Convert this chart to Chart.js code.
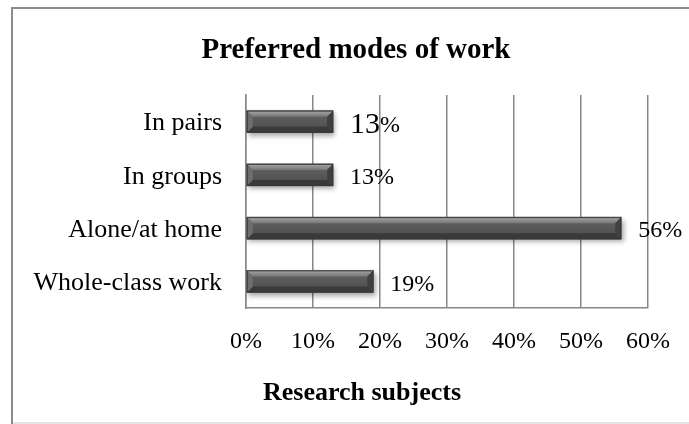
<!DOCTYPE html>
<html>
<head>
<meta charset="utf-8">
<script src="https://cdn.jsdelivr.net/npm/chart.js@4/dist/chart.umd.min.js"></script>
<style>
  html, body { margin: 0; padding: 0; background: #fff; }
  canvas { display: block; }
</style>
</head>
<body>
<canvas id="c" width="689" height="424"></canvas>
<script>
const categories = ["In pairs", "In groups", "Alone/at home", "Whole-class work"];
const values = [13, 13, 56, 19];
const tickValues = [0, 10, 20, 30, 40, 50, 60];
const chartTitle = "Preferred modes of work";
const axisTitle = "Research subjects";

const FONT = "'Liberation Serif', 'Times New Roman', serif";
const GRID = "#878787";

const framePlugin = {
  id: "frame",
  beforeDraw(chart) {
    const ctx = chart.ctx;
    ctx.save();
    ctx.fillStyle = "#fff";
    ctx.fillRect(0, 0, chart.width, chart.height);
    ctx.strokeStyle = "#dcdcdc";
    ctx.lineWidth = 1.5;
    ctx.beginPath();
    ctx.moveTo(12, 423); ctx.lineTo(chart.width, 423);
    ctx.stroke();
    ctx.strokeStyle = "#8c8c8c";
    ctx.lineWidth = 2;
    ctx.beginPath();
    ctx.moveTo(12, 424); ctx.lineTo(12, 8); ctx.lineTo(chart.width + 5, 8);
    ctx.stroke();
    ctx.restore();
  }
};

const titlesPlugin = {
  id: "titles",
  afterDraw(chart) {
    const ctx = chart.ctx;
    ctx.save();
    ctx.fillStyle = "#000";
    ctx.textAlign = "center";
    ctx.textBaseline = "middle";
    ctx.font = "bold 29px " + FONT;
    ctx.fillText(chartTitle, 356, 51);
    ctx.font = "bold 26px " + FONT;
    ctx.fillText(axisTitle, 362, 393);
    ctx.restore();
  }
};

const shadowPlugin = {
  id: "barShadow",
  beforeDatasetDraw(chart) {
    const ctx = chart.ctx;
    ctx.save();
    ctx.shadowColor = "rgba(0,0,0,0.35)";
    ctx.shadowBlur = 5;
    ctx.shadowOffsetX = 2;
    ctx.shadowOffsetY = 3;
  },
  afterDatasetDraw(chart) {
    chart.ctx.restore();
  }
};

const bevelPlugin = {
  id: "bevel",
  afterDatasetsDraw(chart) {
    const ctx = chart.ctx;
    const meta = chart.getDatasetMeta(0);
    meta.data.forEach((bar) => {
      const x0 = Math.min(bar.base, bar.x), x1 = Math.max(bar.base, bar.x);
      const h = bar.height;
      const y0 = bar.y - h / 2, y1 = bar.y + h / 2;
      const b = 6;
      ctx.save();
      const g = ctx.createLinearGradient(0, y0, 0, y1);
      g.addColorStop(0, "#666666");
      g.addColorStop(1, "#4a4a4a");
      ctx.fillStyle = g;
      ctx.fillRect(x0, y0, x1 - x0, y1 - y0);
      const gt = ctx.createLinearGradient(0, y0, 0, y0 + b);
      gt.addColorStop(0, "#a8a8a8");
      gt.addColorStop(1, "#777777");
      ctx.fillStyle = gt;
      ctx.beginPath();
      ctx.moveTo(x0, y0); ctx.lineTo(x1, y0); ctx.lineTo(x1 - b, y0 + b); ctx.lineTo(x0 + b, y0 + b); ctx.closePath();
      ctx.fill();
      ctx.fillStyle = "#3a3a3a";
      ctx.beginPath();
      ctx.moveTo(x0, y1); ctx.lineTo(x1, y1); ctx.lineTo(x1 - b, y1 - b); ctx.lineTo(x0 + b, y1 - b); ctx.closePath();
      ctx.fill();
      ctx.fillStyle = "#6e6e6e";
      ctx.beginPath();
      ctx.moveTo(x0, y0); ctx.lineTo(x0 + b, y0 + b); ctx.lineTo(x0 + b, y1 - b); ctx.lineTo(x0, y1); ctx.closePath();
      ctx.fill();
      ctx.fillStyle = "#404040";
      ctx.beginPath();
      ctx.moveTo(x1, y0); ctx.lineTo(x1 - b, y0 + b); ctx.lineTo(x1 - b, y1 - b); ctx.lineTo(x1, y1); ctx.closePath();
      ctx.fill();
      ctx.strokeStyle = "#383838";
      ctx.lineWidth = 1;
      ctx.strokeRect(x0 + 0.5, y0 + 0.5, x1 - x0 - 1, y1 - y0 - 1);
      ctx.restore();
    });
  }
};

const labelPlugin = {
  id: "valueLabels",
  afterDatasetsDraw(chart) {
    const ctx = chart.ctx;
    const meta = chart.getDatasetMeta(0);
    const ds = chart.data.datasets[0].data;
    ctx.save();
    ctx.fillStyle = "#000";
    ctx.textBaseline = "middle";
    ctx.textAlign = "left";
    meta.data.forEach((bar, i) => {
      const x = Math.max(bar.base, bar.x) + 17;
      const y = bar.y + 3;
      const num = String(ds[i]);
      if (i === 0) {
        ctx.font = "30px " + FONT;
        ctx.fillText(num, x, y);
        const w = ctx.measureText(num).width;
        ctx.font = "24px " + FONT;
        ctx.fillText("%", x + w, y + 1);
      } else {
        ctx.font = "24px " + FONT;
        ctx.fillText(num + "%", x, y);
      }
    });
    ctx.restore();
  }
};

new Chart(document.getElementById("c"), {
  type: "bar",
  data: {
    labels: categories,
    datasets: [{
      data: values,
      backgroundColor: "#555555",
      borderWidth: 0,
      barThickness: 22
    }]
  },
  options: {
    indexAxis: "y",
    responsive: false,
    animation: false,
    devicePixelRatio: 1,
    layout: { padding: { left: 0, right: 41, top: 95, bottom: 0 } },
    plugins: {
      legend: { display: false },
      tooltip: { enabled: false },
      title: { display: false }
    },
    scales: {
      x: {
        min: 0,
        max: 60,
        afterBuildTicks(scale) { scale.ticks = tickValues.map(v => ({ value: v })); },
        afterFit(scale) { scale.height = 116; },
        grid: { color: GRID, lineWidth: 1.5, drawTicks: false },
        border: { display: true, color: GRID, width: 1.5 },
        ticks: {
          color: "#000",
          padding: 19,
          maxRotation: 0,
          font: { family: FONT, size: 24, lineHeight: 1.2 },
          callback: v => v + "%"
        },
        title: { display: false }
      },
      y: {
        afterFit(scale) { scale.width = 246; },
        grid: { display: false, drawTicks: false },
        border: { display: true, color: GRID, width: 1.5 },
        ticks: {
          color: "#000",
          padding: 24,
          labelOffset: 2,
          font: { family: FONT, size: 26, lineHeight: 1.2 }
        }
      }
    }
  },
  plugins: [framePlugin, shadowPlugin, bevelPlugin, labelPlugin, titlesPlugin]
});
</script>
</body>
</html>
